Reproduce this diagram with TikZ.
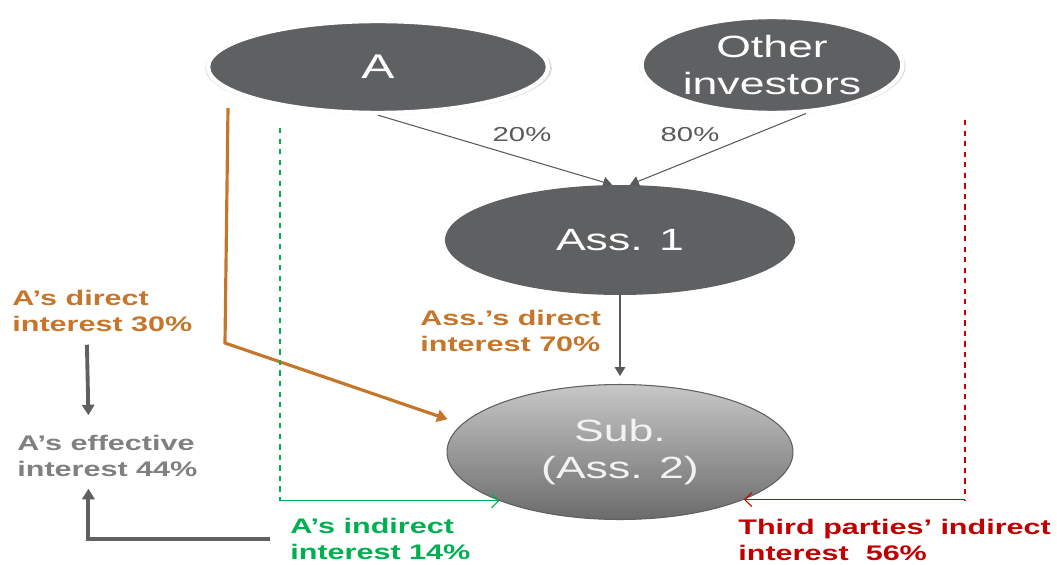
\documentclass[tikz,border=0pt]{standalone}
\usepackage{fontspec}
\setmainfont{Liberation Sans}[FakeStretch=1.45]
\usetikzlibrary{shapes.geometric,arrows.meta,positioning,calc,shadows}

\definecolor{darkgrey}{HTML}{5F6062}
\definecolor{linegrey}{HTML}{595959}
\definecolor{labelgrey}{HTML}{808080}
\definecolor{ownorange}{HTML}{C5762B}
\definecolor{owngreen}{HTML}{00B050}
\definecolor{ownred}{HTML}{C00000}

\begin{document}
\begin{tikzpicture}[x=0.02cm, y=-0.02cm,
    entity/.style={ellipse, fill=darkgrey, text=white, align=center, inner sep=0pt,
                   font=\fontsize{17.5}{21}\selectfont},
    investor/.style={entity, draw=white, line width=2.5pt,
                     drop shadow={shadow scale=1.02, shadow xshift=0.3pt, shadow yshift=-0.6pt, opacity=0.3}},
    sub/.style={entity, draw=darkgrey, line width=0.6pt, text=white!95!black,
                top color=black!22, bottom color=black!58},
    pct/.style={font=\fontsize{11.5}{14}\selectfont, text=linegrey, inner sep=0pt},
    note/.style={font=\bfseries\fontsize{12}{14.4}\selectfont, align=left, inner sep=0pt, anchor=west},
    own/.style={-{Triangle[width=6pt,length=5pt]}, linegrey, line width=0.6pt},
    direct/.style={-{Triangle[width=7pt,length=6pt]}, ownorange, line width=1.8pt},
    sumarrow/.style={-{Triangle[width=7pt,length=6pt]}, darkgrey, line width=2.2pt},
    indirect/.style={-{Straight Barb[length=4pt,width=8pt]}, line width=0.6pt}
]
\useasboundingbox (0,0) rectangle (1057,564);

% Entities
\node[investor, minimum width=6.8cm, minimum height=1.84cm, font=\fontsize{19.5}{23}\selectfont]
     (A) at (378,67) {A};
\node[investor, minimum width=5.22cm, minimum height=1.92cm] (oth) at (772,65) {Other\\investors};
\node[entity, minimum width=7cm, minimum height=2.2cm] (ass1) at (620,240) {Ass. 1};
\node[sub, minimum width=6.92cm, minimum height=2.7cm] (sub) at (620,452) {Sub.\\(Ass. 2)};

% Percentages
\node[pct] (p20) at (522,135) {20\%};
\node[pct] (p80) at (690,135) {80\%};

% Notes
\node[note, text=ownorange]  (l30) at (12,311)  {A’s direct\\interest 30\%};
\node[note, text=labelgrey]  (l44) at (17,456)  {A’s effective\\interest 44\%};
\node[note, text=ownorange]  (l70) at (420,331) {Ass.’s direct\\interest 70\%};
\node[note, text=owngreen]   (l14) at (290,539) {A’s indirect\\interest 14\%};
\node[note, text=ownred]     (l56) at (738,540) {Third parties’ indirect\\interest~~56\%};

% Free ends
\coordinate (o1) at (228,108);
\coordinate (o2) at (225,343);
\coordinate (g1) at (280,128);
\coordinate (r1) at (965,120);

% Holdings
\draw[own] (A.south) -- ([xshift=-0.16cm]ass1.north);
\draw[own] (oth.-55) -- ([xshift=0.2cm]ass1.north);
\draw[own, shorten >=0.16cm] (ass1.south) -- (sub.north);

% Direct and indirect interests
\draw[direct, shorten >=0.3cm] (o1) -- (o2) -- (sub.170);
\draw[owngreen, dashed, line width=0.6pt] (g1) -- (g1 |- sub.202);
\draw[indirect, owngreen] (g1 |- sub.202) -- (sub.202);
\draw[ownred, dashed, line width=0.6pt] (r1) -- (r1 |- sub.-21.5);
\draw[indirect, ownred] (r1 |- sub.-21.5) -- (sub.-21.5);

% Effective interest
\draw[sumarrow] ([xshift=-0.31cm,yshift=-0.26cm]l30.south) -- ([xshift=-0.38cm,yshift=0.4cm]l44.north);
\draw[sumarrow] ([xshift=-0.4cm]l14.west) -| ([xshift=-0.38cm,yshift=-0.24cm]l44.south);

\end{tikzpicture}
\end{document}
